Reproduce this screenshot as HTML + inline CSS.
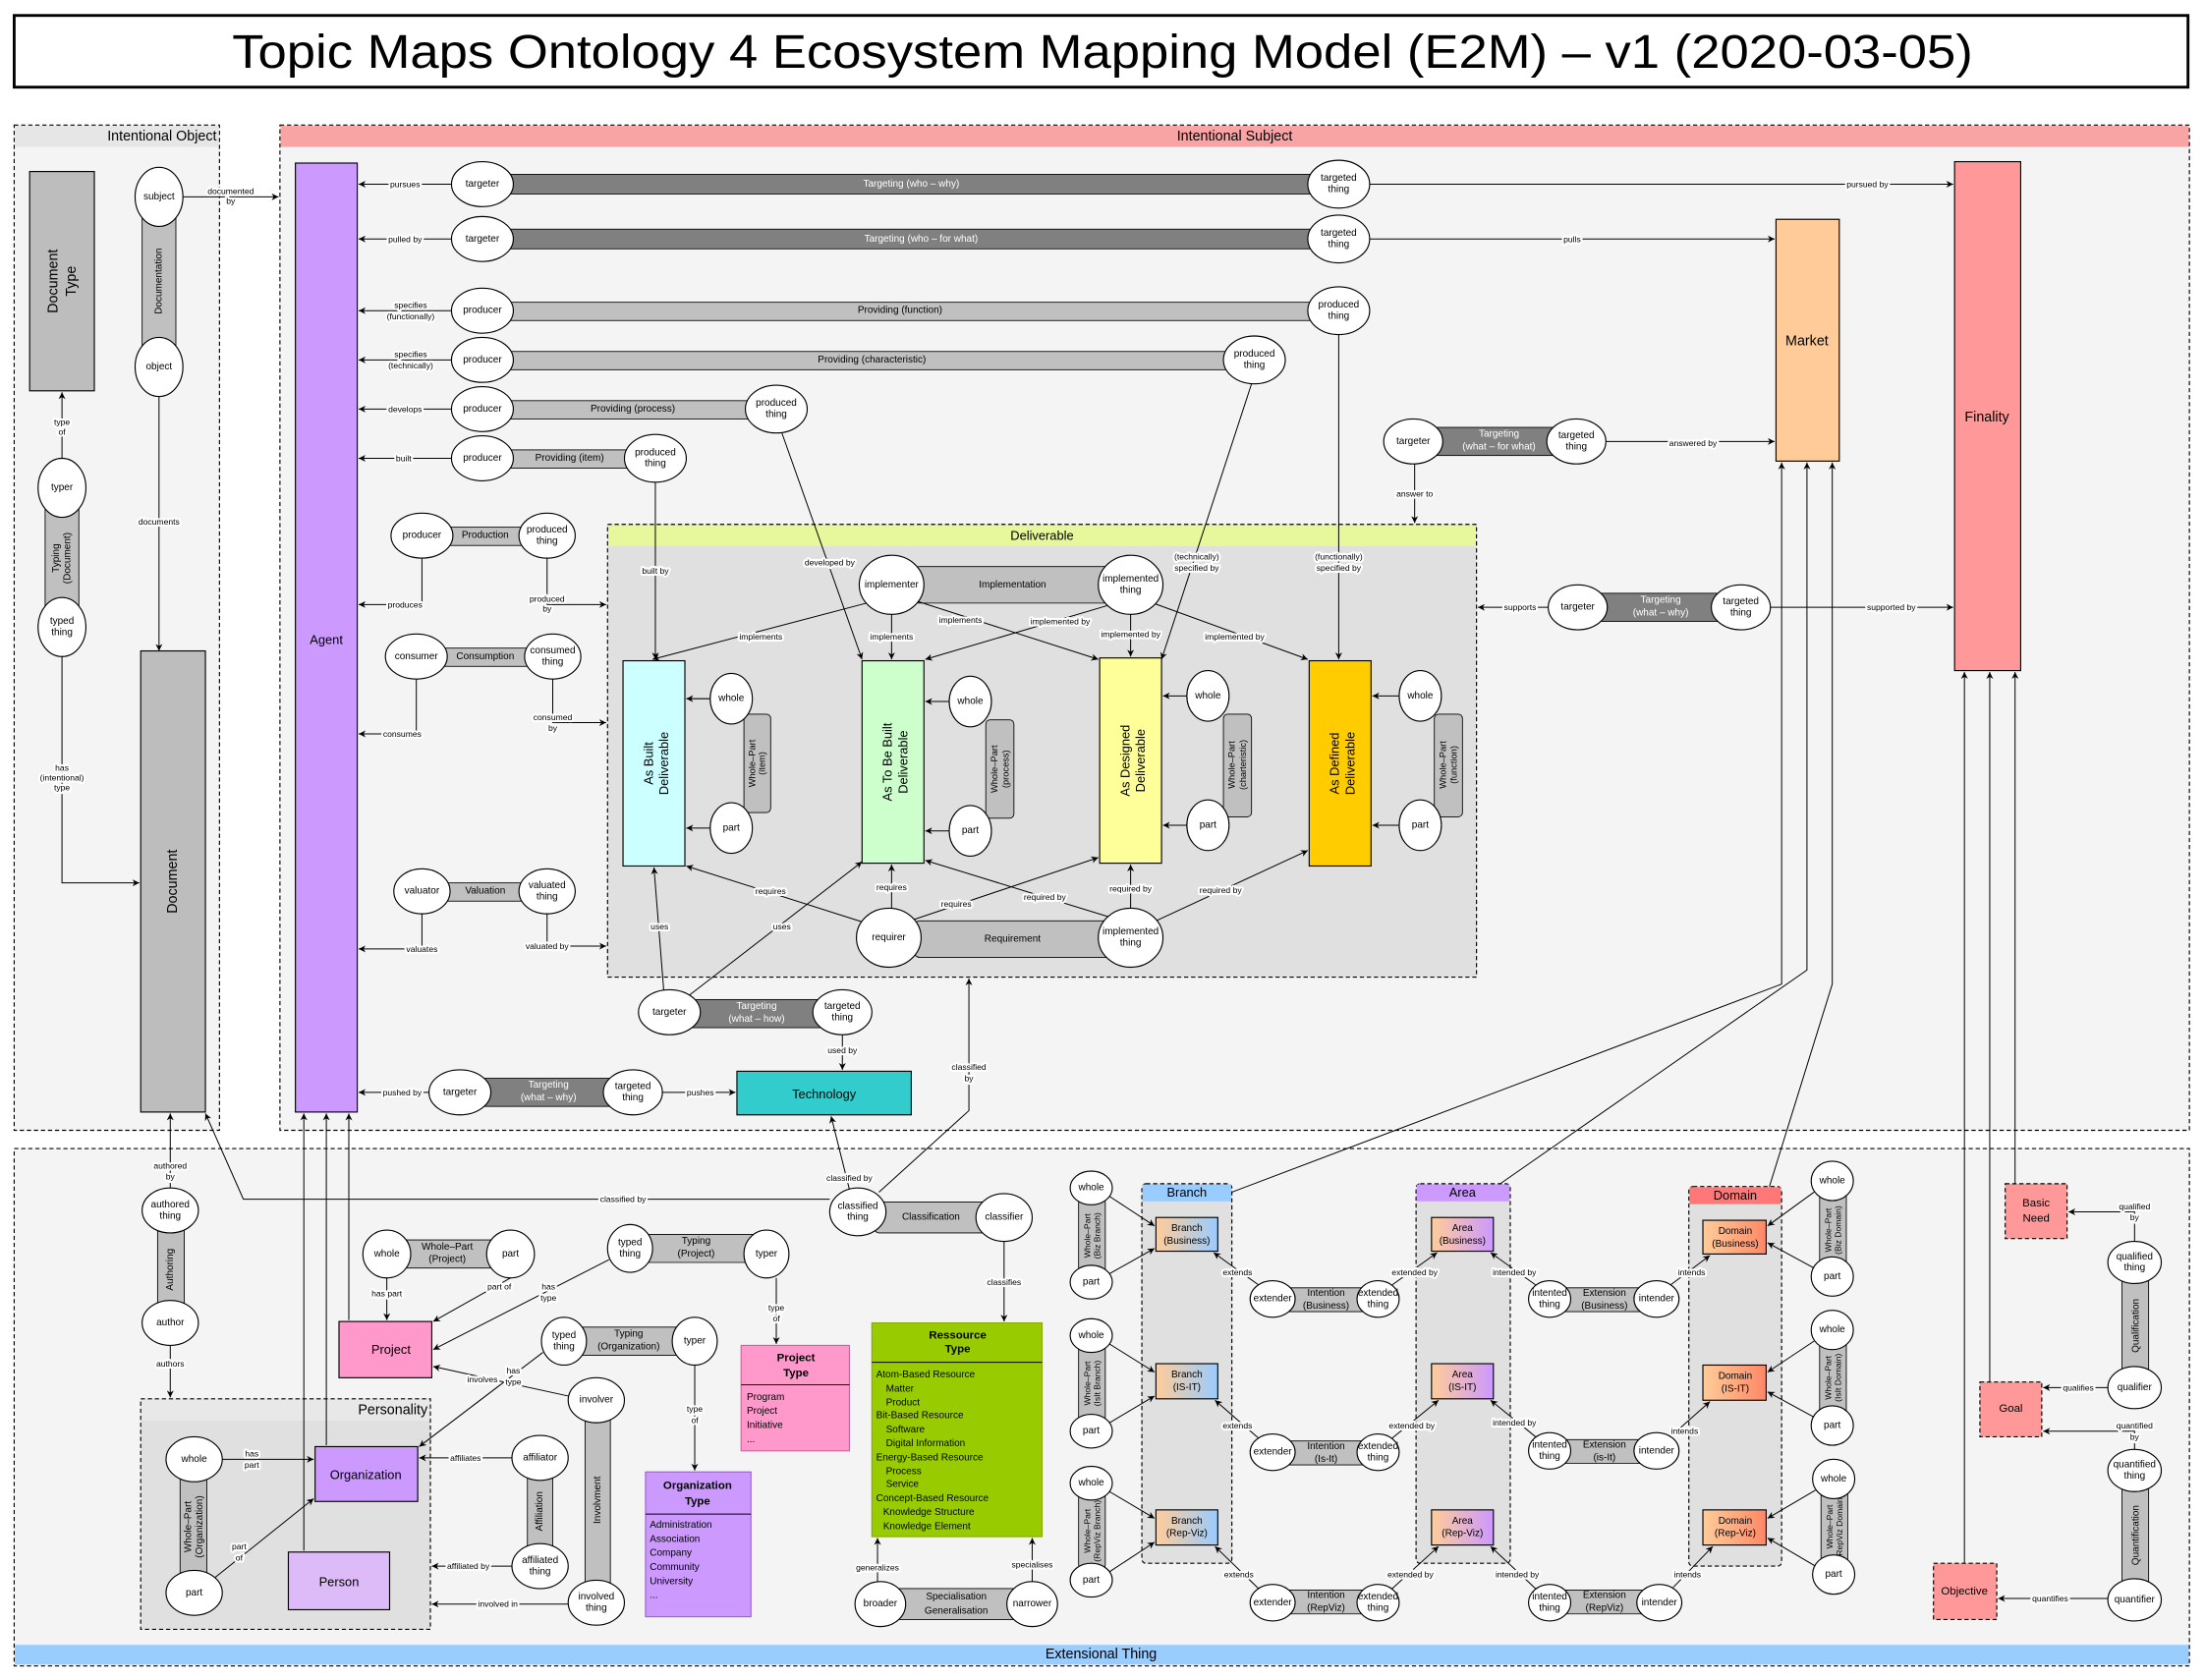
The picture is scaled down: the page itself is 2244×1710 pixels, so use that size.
<!DOCTYPE html>
<html><head><meta charset="utf-8"><style>
html,body{margin:0;padding:0;background:#fff}
svg{display:block}
text{font-family:"Liberation Sans",sans-serif;font-size:7px;text-anchor:middle;dominant-baseline:central;fill:#000}
.e{fill:#fff;stroke:#000;stroke-width:.8}
.bd{fill:#808080;stroke:#000;stroke-width:.6}
.bl{fill:#c0c0c0;stroke:#000;stroke-width:.6}
.lb{paint-order:stroke;stroke:#fff;stroke-width:3px;stroke-linejoin:round;font-size:6px}
.ln{stroke:#000;stroke-width:.7;fill:none}
.a{stroke:#000;stroke-width:.7;fill:none;marker-end:url(#ar)}
.dc{stroke:#000;stroke-width:.8;stroke-dasharray:3 2}
.bx{stroke:#000;stroke-width:.8}
</style></head><body>
<svg width="2244" height="1710" viewBox="0 0 1568 1195" xmlns="http://www.w3.org/2000/svg">
<defs><marker id="ar" viewBox="0 0 10 10" refX="10" refY="5" markerWidth="7" markerHeight="7" orient="auto-start-reverse"><path d="M0,0 L10,5 L0,10 L3,5z" fill="#000"/></marker>
<linearGradient id="gb" x1="0" x2="1"><stop offset="0" stop-color="#ffcc99"/><stop offset="1" stop-color="#99ccff"/></linearGradient>
<linearGradient id="ga" x1="0" x2="1"><stop offset="0" stop-color="#ffcc99"/><stop offset="1" stop-color="#cc99ff"/></linearGradient>
<linearGradient id="gd" x1="0" x2="1"><stop offset="0" stop-color="#ffcc99"/><stop offset="1" stop-color="#ff8866"/></linearGradient></defs>
<rect width="1568" height="1195" fill="#fff"/>
<!-- title -->
<rect x="10" y="11" width="1546" height="51" fill="#fff" stroke="#000" stroke-width="2"/>
<text x="784" y="37" textLength="1238" lengthAdjust="spacingAndGlyphs" style="font-size:34px">Topic Maps Ontology 4 Ecosystem Mapping Model (E2M) – v1 (2020-03-05)</text>

<!-- containers -->
<rect x="10" y="89" width="146" height="715" fill="#f4f4f4" class="dc"/>
<rect x="10.5" y="89.5" width="145" height="15" fill="#e6e6e6"/>
<text x="154" y="97" style="text-anchor:end;font-size:10px">Intentional Object</text>
<rect x="199" y="89" width="1358" height="715" fill="#f4f4f4" class="dc"/>
<rect x="199.5" y="89.5" width="1357" height="15" fill="#f8a4a4"/>
<text x="878" y="97" style="font-size:10px">Intentional Subject</text>
<rect x="10" y="817" width="1547" height="368" fill="#f4f4f4" class="dc"/>
<rect x="10.5" y="1170" width="1546" height="14" fill="#99ccff"/>
<text x="783" y="1177" style="font-size:10px">Extensional Thing</text>

<!-- Intentional object -->
<rect x="21" y="122" width="46" height="156" fill="#bdbdbd" class="bx"/>
<text transform="translate(38,200) rotate(-90)" style="font-size:10px">Document</text>
<text transform="translate(51,200) rotate(-90)" style="font-size:10px">Type</text>
<rect x="101" y="148" width="24" height="104" rx="4" class="bl"/>
<text transform="translate(113,200) rotate(-90)">Documentation</text>
<ellipse cx="113" cy="140" rx="17" ry="21" class="e"/><text x="113" y="140">subject</text>
<ellipse cx="113" cy="261" rx="17" ry="21" class="e"/><text x="113" y="261">object</text>
<path class="a" d="M130,140 H198"/><text x="164" y="136" class="lb">documented</text><text x="164" y="143" class="lb">by</text>
<path class="a" d="M113,282 V463"/><text x="113" y="371" class="lb">documents</text>
<rect x="100" y="463" width="46" height="328" fill="#bdbdbd" class="bx"/>
<text transform="translate(123,627) rotate(-90)" style="font-size:10px">Document</text>
<rect x="32" y="356" width="24" height="82" rx="4" class="bl"/>
<text transform="translate(40,397) rotate(-90)">Typing</text><text transform="translate(48,397) rotate(-90)">(Document)</text>
<ellipse cx="44" cy="347" rx="17" ry="21" class="e"/><text x="44" y="347">typer</text>
<ellipse cx="44" cy="446" rx="17" ry="21" class="e"/><text x="44" y="442">typed</text><text x="44" y="450">thing</text>
<path class="a" d="M44,326 V279"/><text x="44" y="300" class="lb">type</text><text x="44" y="307" class="lb">of</text>
<path class="a" d="M44,467 V628 H99"/><text x="44" y="546" class="lb">has</text><text x="44" y="553" class="lb">(intentional)</text><text x="44" y="560" class="lb">type</text>

<!-- Agent -->
<rect x="210" y="116" width="44" height="675" fill="#cc99ff" class="bx"/>
<text x="232" y="455" style="font-size:9px">Agent</text>

<!-- Row1 -->
<rect x="355" y="124" width="590" height="14" class="bd"/><text x="648" y="131" style="fill:#fff">Targeting (who – why)</text>
<ellipse cx="343" cy="131" rx="22" ry="16" class="e"/><text x="343" y="131">targeter</text>
<ellipse cx="952" cy="131" rx="22" ry="17" class="e"/><text x="952" y="127">targeted</text><text x="952" y="135">thing</text>
<path class="a" d="M321,131 H255"/><text x="288" y="131" class="lb">pursues</text>
<path class="a" d="M974,131 H1389"/><text x="1328" y="131" class="lb">pursued by</text>
<!-- Row2 -->
<rect x="355" y="163" width="590" height="14" class="bd"/><text x="655" y="170" style="fill:#fff">Targeting (who – for what)</text>
<ellipse cx="343" cy="170" rx="22" ry="16" class="e"/><text x="343" y="170">targeter</text>
<ellipse cx="952" cy="170" rx="22" ry="17" class="e"/><text x="952" y="166">targeted</text><text x="952" y="174">thing</text>
<path class="a" d="M321,170 H255"/><text x="288" y="170" class="lb">pulled by</text>
<path class="a" d="M974,170 H1262"/><text x="1118" y="170" class="lb">pulls</text>
<!-- Row3 -->
<rect x="355" y="215" width="590" height="13" class="bl"/><text x="640" y="221">Providing (function)</text>
<ellipse cx="343" cy="221" rx="22" ry="16" class="e"/><text x="343" y="221">producer</text>
<ellipse cx="952" cy="221" rx="22" ry="17" class="e"/><text x="952" y="217">produced</text><text x="952" y="225">thing</text>
<path class="a" d="M321,221 H255"/><text x="292" y="217" class="lb">specifies</text><text x="292" y="225" class="lb">(functionally)</text>
<!-- Row4 -->
<rect x="355" y="250" width="530" height="13" class="bl"/><text x="620" y="256">Providing (characteristic)</text>
<ellipse cx="343" cy="256" rx="22" ry="16" class="e"/><text x="343" y="256">producer</text>
<ellipse cx="892" cy="256" rx="22" ry="17" class="e"/><text x="892" y="252">produced</text><text x="892" y="260">thing</text>
<path class="a" d="M321,256 H255"/><text x="292" y="252" class="lb">specifies</text><text x="292" y="260" class="lb">(technically)</text>
<!-- Row5 -->
<rect x="355" y="285" width="190" height="13" class="bl"/><text x="450" y="291">Providing (process)</text>
<ellipse cx="343" cy="291" rx="22" ry="16" class="e"/><text x="343" y="291">producer</text>
<ellipse cx="552" cy="291" rx="22" ry="17" class="e"/><text x="552" y="287">produced</text><text x="552" y="295">thing</text>
<path class="a" d="M321,291 H255"/><text x="288" y="291" class="lb">develops</text>
<!-- Row6 -->
<rect x="355" y="320" width="100" height="13" class="bl"/><text x="405" y="326">Providing (item)</text>
<ellipse cx="343" cy="326" rx="22" ry="16" class="e"/><text x="343" y="326">producer</text>
<ellipse cx="466" cy="326" rx="22" ry="17" class="e"/><text x="466" y="322">produced</text><text x="466" y="330">thing</text>
<path class="a" d="M321,326 H255"/><text x="287" y="326" class="lb">built</text>
<!-- Production etc -->
<rect x="310" y="375" width="70" height="13" class="bl"/><text x="345" y="381">Production</text>
<ellipse cx="300" cy="381" rx="22" ry="16" class="e"/><text x="300" y="381">producer</text>
<ellipse cx="389" cy="381" rx="20" ry="16" class="e"/><text x="389" y="377">produced</text><text x="389" y="385">thing</text>
<path class="a" d="M300,397 V430 H255"/><text x="288" y="430" class="lb">produces</text>
<path class="a" d="M389,397 V430 H431"/><text x="389" y="426" class="lb">produced</text><text x="389" y="433" class="lb">by</text>
<rect x="306" y="461" width="80" height="13" class="bl"/><text x="345" y="467">Consumption</text>
<ellipse cx="296" cy="467" rx="22" ry="16" class="e"/><text x="296" y="467">consumer</text>
<ellipse cx="393" cy="467" rx="20" ry="16" class="e"/><text x="393" y="463">consumed</text><text x="393" y="471">thing</text>
<path class="a" d="M296,483 V522 H255"/><text x="286" y="522" class="lb">consumes</text>
<path class="a" d="M393,483 V514 H431"/><text x="393" y="510" class="lb">consumed</text><text x="393" y="518" class="lb">by</text>
<rect x="310" y="628" width="70" height="13" class="bl"/><text x="345" y="634">Valuation</text>
<ellipse cx="300" cy="634" rx="20" ry="16" class="e"/><text x="300" y="634">valuator</text>
<ellipse cx="389" cy="634" rx="20" ry="16" class="e"/><text x="389" y="630">valuated</text><text x="389" y="638">thing</text>
<path class="a" d="M300,650 V675 H255"/><text x="300" y="675" class="lb">valuates</text>
<path class="a" d="M389,650 V673 H431"/><text x="389" y="673" class="lb">valuated by</text>

<!-- Deliverable -->
<rect x="432" y="373" width="618" height="322" fill="#e0e0e0" class="dc"/>
<rect x="432.5" y="373.5" width="617" height="15" fill="#e6f79c"/>
<text x="741" y="381" style="font-size:9px">Deliverable</text>
<rect x="443" y="470" width="44" height="146" fill="#ccffff" class="bx"/>
<text transform="translate(461,543) rotate(-90)" style="font-size:9px">As Built</text><text transform="translate(472,543) rotate(-90)" style="font-size:9px">Deliverable</text>
<rect x="613" y="470" width="44" height="144" fill="#ccffcc" class="bx"/>
<text transform="translate(631,542) rotate(-90)" style="font-size:9px">As To Be Built</text><text transform="translate(642,542) rotate(-90)" style="font-size:9px">Deliverable</text>
<rect x="782" y="468" width="44" height="146" fill="#ffff99" class="bx"/>
<text transform="translate(800,541) rotate(-90)" style="font-size:9px">As Designed</text><text transform="translate(811,541) rotate(-90)" style="font-size:9px">Deliverable</text>
<rect x="931" y="470" width="44" height="146" fill="#ffcc00" class="bx"/>
<text transform="translate(949,543) rotate(-90)" style="font-size:9px">As Defined</text><text transform="translate(960,543) rotate(-90)" style="font-size:9px">Deliverable</text>
<!-- whole-parts -->
<rect x="529" y="508" width="19" height="70" rx="3" class="bl"/><text transform="translate(535,543) rotate(-90)" style="font-size:6.5px">Whole–Part</text><text transform="translate(542,543) rotate(-90)" style="font-size:6.5px">(item)</text>
<ellipse cx="520" cy="497" rx="15" ry="18" class="e"/><text x="520" y="497">whole</text>
<ellipse cx="520" cy="589" rx="15" ry="18" class="e"/><text x="520" y="589">part</text>
<path class="a" d="M505,497 H488"/><path class="a" d="M505,589 H488"/>
<rect x="701" y="512" width="20" height="70" rx="3" class="bl"/><text transform="translate(707,547) rotate(-90)" style="font-size:6.5px">Whole–Part</text><text transform="translate(715,547) rotate(-90)" style="font-size:6.5px">(process)</text>
<ellipse cx="690" cy="499" rx="15" ry="18" class="e"/><text x="690" y="499">whole</text>
<ellipse cx="690" cy="591" rx="15" ry="18" class="e"/><text x="690" y="591">part</text>
<path class="a" d="M675,499 H658"/><path class="a" d="M675,591 H658"/>
<rect x="870" y="508" width="20" height="73" rx="3" class="bl"/><text transform="translate(876,544) rotate(-90)" style="font-size:6.5px">Whole–Part</text><text transform="translate(884,544) rotate(-90)" style="font-size:6.5px">(charteristic)</text>
<ellipse cx="859" cy="495" rx="15" ry="18" class="e"/><text x="859" y="495">whole</text>
<ellipse cx="859" cy="587" rx="15" ry="18" class="e"/><text x="859" y="587">part</text>
<path class="a" d="M844,495 H827"/><path class="a" d="M844,587 H827"/>
<rect x="1020" y="508" width="20" height="73" rx="3" class="bl"/><text transform="translate(1026,544) rotate(-90)" style="font-size:6.5px">Whole–Part</text><text transform="translate(1034,544) rotate(-90)" style="font-size:6.5px">(function)</text>
<ellipse cx="1010" cy="495" rx="15" ry="18" class="e"/><text x="1010" y="495">whole</text>
<ellipse cx="1010" cy="587" rx="15" ry="18" class="e"/><text x="1010" y="587">part</text>
<path class="a" d="M995,495 H976"/><path class="a" d="M995,587 H976"/>
<!-- implementation -->
<rect x="650" y="403" width="142" height="26" rx="4" class="bl"/><text x="720" y="416">Implementation</text>
<path class="a" d="M620,428 L464,469"/><text x="541" y="453" class="lb">implements</text>
<path class="a" d="M634,432 V469"/><text x="634" y="453" class="lb">implements</text>
<path class="a" d="M650,427 L781,469"/><text x="683" y="441" class="lb">implements</text>
<path class="a" d="M790,430 L658,469"/><text x="754" y="442" class="lb">implemented by</text>
<path class="a" d="M804,433 V467"/><text x="804" y="451" class="lb">implemented by</text>
<path class="a" d="M820,429 L930,469"/><text x="878" y="453" class="lb">implemented by</text>
<ellipse cx="634" cy="416" rx="23" ry="21" class="e"/><text x="634" y="416">implementer</text>
<ellipse cx="804" cy="416" rx="23" ry="21" class="e"/><text x="804" y="412">implemented</text><text x="804" y="420">thing</text>
<!-- requirement -->
<rect x="650" y="655" width="142" height="26" rx="4" class="bl"/><text x="720" y="668">Requirement</text>
<path class="a" d="M614,656 L488,616"/><text x="548" y="634" class="lb">requires</text>
<path class="a" d="M634,648 V615"/><text x="634" y="631" class="lb">requires</text>
<path class="a" d="M650,654 L781,610"/><text x="680" y="643" class="lb">requires</text>
<path class="a" d="M788,652 L658,612"/><text x="743" y="638" class="lb">required by</text>
<path class="a" d="M804,648 V615"/><text x="804" y="632" class="lb">required by</text>
<path class="a" d="M822,655 L930,605"/><text x="868" y="633" class="lb">required by</text>
<ellipse cx="632" cy="667" rx="23" ry="21" class="e"/><text x="632" y="667">requirer</text>
<ellipse cx="804" cy="667" rx="23" ry="21" class="e"/><text x="804" y="663">implemented</text><text x="804" y="671">thing</text>
<!-- specs into deliverables -->
<path class="a" d="M466,343 V469"/><text x="466" y="406" class="lb">built by</text>
<path class="a" d="M556,308 L613,469"/><text x="590" y="400" class="lb">developed by</text>
<path class="a" d="M890,273 L826,469"/><text x="851" y="396" class="lb">(technically)</text><text x="851" y="404" class="lb">specified by</text>
<path class="a" d="M952,238 V469"/><text x="952" y="396" class="lb">(functionally)</text><text x="952" y="404" class="lb">specified by</text>

<!-- targeting what-how -->
<rect x="486" y="711" width="104" height="20" class="bd"/><text x="538" y="716" style="fill:#fff">Targeting</text><text x="538" y="725" style="fill:#fff">(what – how)</text>
<path class="a" d="M472,705 L465,617"/><text x="469" y="659" class="lb">uses</text>
<path class="a" d="M490,708 L613,613"/><text x="556" y="659" class="lb">uses</text>
<ellipse cx="476" cy="720" rx="22" ry="16" class="e"/><text x="476" y="720">targeter</text>
<ellipse cx="599" cy="720" rx="21" ry="16" class="e"/><text x="599" y="716">targeted</text><text x="599" y="724">thing</text>
<path class="a" d="M599,736 V761"/><text x="599" y="747" class="lb">used by</text>
<rect x="524" y="762" width="124" height="31" fill="#33cccc" class="bx"/><text x="586" y="778" style="font-size:9px">Technology</text>
<!-- targeting what-why lower -->
<rect x="340" y="767" width="100" height="20" class="bd"/><text x="390" y="772" style="fill:#fff">Targeting</text><text x="390" y="781" style="fill:#fff">(what – why)</text>
<ellipse cx="327" cy="777" rx="22" ry="16" class="e"/><text x="327" y="777">targeter</text>
<ellipse cx="450" cy="777" rx="21" ry="16" class="e"/><text x="450" y="773">targeted</text><text x="450" y="781">thing</text>
<path class="a" d="M305,777 H255"/><text x="286" y="777" class="lb">pushed by</text>
<path class="a" d="M471,777 H523"/><text x="498" y="777" class="lb">pushes</text>

<!-- right side -->
<rect x="1263" y="156" width="45" height="172" fill="#ffcc99" class="bx"/><text x="1285" y="243" style="font-size:10px">Market</text>
<rect x="1390" y="115" width="47" height="362" fill="#ff9999" class="bx"/><text x="1413" y="297" style="font-size:10px">Finality</text>
<rect x="1015" y="304" width="95" height="20" class="bd"/><text x="1066" y="309" style="fill:#fff">Targeting</text><text x="1066" y="318" style="fill:#fff">(what – for what)</text>
<ellipse cx="1005" cy="314" rx="21" ry="16" class="e"/><text x="1005" y="314">targeter</text>
<ellipse cx="1121" cy="314" rx="21" ry="16" class="e"/><text x="1121" y="310">targeted</text><text x="1121" y="318">thing</text>
<path class="a" d="M1142,314 H1262"/><text x="1204" y="315" class="lb">answered by</text>
<path class="a" d="M1006,330 V372"/><text x="1006" y="351" class="lb">answer to</text>
<rect x="1132" y="422" width="96" height="20" class="bd"/><text x="1181" y="427" style="fill:#fff">Targeting</text><text x="1181" y="436" style="fill:#fff">(what – why)</text>
<ellipse cx="1122" cy="432" rx="21" ry="16" class="e"/><text x="1122" y="432">targeter</text>
<ellipse cx="1238" cy="432" rx="21" ry="16" class="e"/><text x="1238" y="428">targeted</text><text x="1238" y="436">thing</text>
<path class="a" d="M1101,432 H1051"/><text x="1081" y="432" class="lb">supports</text>
<path class="a" d="M1259,432 H1389"/><text x="1345" y="432" class="lb">supported by</text>

<!-- lines from columns to Market -->
<path class="a" d="M876,848 L1267,700 V329"/>
<path class="a" d="M1064,844 L1285,690 V329"/>
<path class="a" d="M1258,845 L1303,700 V329"/>
<!-- lines to Finality -->
<path class="a" d="M1397,1112 V478"/>
<path class="a" d="M1415,983 V478"/>
<path class="a" d="M1433,842 V478"/>

<!-- Extensional: authoring -->
<rect x="112" y="868" width="19" height="70" rx="3" class="bl"/><text transform="translate(121,903) rotate(-90)">Authoring</text>
<ellipse cx="121" cy="861" rx="20" ry="16" class="e"/><text x="121" y="857">authored</text><text x="121" y="865">thing</text>
<ellipse cx="121" cy="941" rx="20" ry="16" class="e"/><text x="121" y="941">author</text>
<path class="a" d="M121,845 V792"/><text x="121" y="829" class="lb">authored</text><text x="121" y="837" class="lb">by</text>
<path class="a" d="M121,957 V994"/><text x="121" y="970" class="lb">authors</text>
<path class="a" d="M590,853 H173 L146,792"/><text x="443" y="853" class="lb">classified by</text>
<!-- classification -->
<rect x="622" y="855" width="80" height="22" rx="3" class="bl"/><text x="662" y="866">Classification</text>
<path class="a" d="M604,846 L591,794"/><text x="604" y="838" class="lb">classified by</text>
<path class="a" d="M625,848 L689,790 V696"/><text x="689" y="759" class="lb">classified</text><text x="689" y="767" class="lb">by</text>
<ellipse cx="610" cy="862" rx="20" ry="17" class="e"/><text x="610" y="858">classified</text><text x="610" y="866">thing</text>
<ellipse cx="714" cy="866" rx="20" ry="17" class="e"/><text x="714" y="866">classifier</text>
<path class="a" d="M714,883 V940"/><text x="714" y="912" class="lb">classifies</text>
<!-- Resource Type -->
<rect x="620" y="941" width="121" height="152" fill="#99cc00" class="bx" style="stroke:#8a0"/>
<path class="ln" d="M620,969 H741"/>
<text x="681" y="950" style="font-weight:bold;font-size:8px">Ressource</text><text x="681" y="960" style="font-weight:bold;font-size:8px">Type</text>
<g><text x="623" y="978" style="text-anchor:start">Atom-Based Resource</text><text x="630" y="988" style="text-anchor:start">Matter</text><text x="630" y="998" style="text-anchor:start">Product</text><text x="623" y="1007" style="text-anchor:start">Bit-Based Resource</text><text x="630" y="1017" style="text-anchor:start">Software</text><text x="630" y="1027" style="text-anchor:start">Digital Information</text><text x="623" y="1037" style="text-anchor:start">Energy-Based Resource</text><text x="630" y="1047" style="text-anchor:start">Process</text><text x="630" y="1056" style="text-anchor:start">Service</text><text x="623" y="1066" style="text-anchor:start">Concept-Based Resource</text><text x="628" y="1076" style="text-anchor:start">Knowledge Structure</text><text x="628" y="1086" style="text-anchor:start">Knowledge Element</text></g>
<rect x="636" y="1130" width="88" height="22" rx="3" class="bl"/><text x="680" y="1136">Specialisation</text><text x="680" y="1146">Generalisation</text>
<ellipse cx="626" cy="1141" rx="18" ry="16" class="e"/><text x="626" y="1141">broader</text>
<ellipse cx="734" cy="1141" rx="18" ry="16" class="e"/><text x="734" y="1141">narrower</text>
<path class="a" d="M624,1125 V1094"/><text x="624" y="1115" class="lb">generalizes</text>
<path class="a" d="M734,1125 V1094"/><text x="734" y="1113" class="lb">specialises</text>
<!-- project -->
<rect x="280" y="882" width="78" height="20" rx="3" class="bl"/><text x="318" y="887">Whole–Part</text><text x="318" y="896">(Project)</text>
<ellipse cx="275" cy="892" rx="17" ry="17" class="e"/><text x="275" y="892">whole</text>
<ellipse cx="363" cy="892" rx="17" ry="17" class="e"/><text x="363" y="892">part</text>
<path class="a" d="M275,909 V939"/><text x="275" y="920" class="lb">has part</text>
<path class="a" d="M363,909 L308,940"/><text x="355" y="915" class="lb">part of</text>
<rect x="241" y="940" width="66" height="40" fill="#ff99cc" class="bx"/><text x="278" y="960" style="font-size:9px">Project</text>
<rect x="455" y="878" width="85" height="20" rx="3" class="bl"/><text x="495" y="883">Typing</text><text x="495" y="892">(Project)</text>
<ellipse cx="448" cy="888" rx="16" ry="17" class="e"/><text x="448" y="884">typed</text><text x="448" y="892">thing</text>
<ellipse cx="545" cy="892" rx="16" ry="17" class="e"/><text x="545" y="892">typer</text>
<path class="a" d="M433,896 L308,960"/><text x="390" y="915" class="lb">has</text><text x="390" y="923" class="lb">type</text>
<path class="a" d="M552,909 V956"/><text x="552" y="930" class="lb">type</text><text x="552" y="938" class="lb">of</text>
<rect x="527" y="957" width="77" height="75" fill="#ff99cc" class="bx" style="stroke:#c69"/>
<path class="ln" d="M527,985 H604"/>
<text x="566" y="966" style="font-weight:bold;font-size:8px">Project</text><text x="566" y="977" style="font-weight:bold;font-size:8px">Type</text>
<text x="531" y="994" style="text-anchor:start">Program</text><text x="531" y="1004" style="text-anchor:start">Project</text><text x="531" y="1014" style="text-anchor:start">Initiative</text><text x="531" y="1024" style="text-anchor:start">...</text>
<rect x="405" y="944" width="84" height="20" rx="3" class="bl"/><text x="447" y="949">Typing</text><text x="447" y="958">(Organization)</text>
<ellipse cx="401" cy="954" rx="16" ry="17" class="e"/><text x="401" y="950">typed</text><text x="401" y="958">thing</text>
<ellipse cx="494" cy="954" rx="16" ry="17" class="e"/><text x="494" y="954">typer</text>
<path class="a" d="M494,971 V1046"/><text x="494" y="1002" class="lb">type</text><text x="494" y="1010" class="lb">of</text>
<rect x="459" y="1047" width="75" height="103" fill="#cc99ff" class="bx" style="stroke:#96c"/>
<path class="ln" d="M459,1077 H534"/>
<text x="496" y="1057" style="font-weight:bold;font-size:8px">Organization</text><text x="496" y="1068" style="font-weight:bold;font-size:8px">Type</text>
<text x="462" y="1085" style="text-anchor:start">Administration</text><text x="462" y="1095" style="text-anchor:start">Association</text><text x="462" y="1105" style="text-anchor:start">Company</text><text x="462" y="1115" style="text-anchor:start">Community</text><text x="462" y="1125" style="text-anchor:start">University</text><text x="462" y="1135" style="text-anchor:start">...</text>
<!-- personality -->
<rect x="100" y="995" width="206" height="164" fill="#e0e0e0" class="dc"/>
<rect x="100.5" y="995.5" width="205" height="15" fill="#e8e8e8"/>
<text x="304" y="1003" style="text-anchor:end;font-size:10px">Personality</text>
<path class="a" d="M216,1103 V792"/><path class="a" d="M232,1028 V792"/><path class="a" d="M248,939 V792"/>
<rect x="224" y="1029" width="73" height="39" fill="#cc99ff" class="bx"/><text x="260" y="1049" style="font-size:9px">Organization</text>
<rect x="205" y="1104" width="72" height="41" fill="#ddbbf8" class="bx"/><text x="241" y="1125" style="font-size:9px">Person</text>
<rect x="128" y="1048" width="19" height="76" rx="3" class="bl"/><text transform="translate(134,1086) rotate(-90)">Whole–Part</text><text transform="translate(142,1086) rotate(-90)">(Organization)</text>
<ellipse cx="138" cy="1038" rx="20" ry="16" class="e"/><text x="138" y="1038">whole</text>
<ellipse cx="138" cy="1133" rx="20" ry="16" class="e"/><text x="138" y="1133">part</text>
<path class="a" d="M158,1038 H223"/><text x="179" y="1034" class="lb">has</text><text x="179" y="1042" class="lb">part</text>
<path class="a" d="M153,1122 L223,1066"/><text x="170" y="1100" class="lb">part</text><text x="170" y="1108" class="lb">of</text>
<rect x="375" y="1044" width="18" height="62" rx="3" class="bl"/><text transform="translate(384,1075) rotate(-90)">Affiliation</text>
<ellipse cx="384" cy="1037" rx="20" ry="16" class="e"/><text x="384" y="1037">affiliator</text>
<ellipse cx="384" cy="1114" rx="20" ry="16" class="e"/><text x="384" y="1110">affiliated</text><text x="384" y="1118">thing</text>
<path class="a" d="M364,1037 H298"/><text x="331" y="1037" class="lb">affiliates</text>
<path class="a" d="M364,1114 H307"/><text x="333" y="1114" class="lb">affiliated by</text>
<rect x="416" y="1005" width="18" height="125" rx="3" class="bl"/><text transform="translate(425,1067) rotate(-90)">Involvment</text>
<ellipse cx="424" cy="996" rx="20" ry="16" class="e"/><text x="424" y="996">involver</text>
<ellipse cx="424" cy="1140" rx="20" ry="16" class="e"/><text x="424" y="1136">involved</text><text x="424" y="1144">thing</text>
<path class="a" d="M404,993 L308,972"/><text x="343" y="981" class="lb">involves</text>
<path class="a" d="M386,962 L298,1029"/><text x="365" y="975" class="lb">has</text><text x="365" y="983" class="lb">type</text>
<path class="a" d="M404,1141 H307"/><text x="354" y="1141" class="lb">involved in</text>

<!-- Branch / Area / Domain columns -->
<rect x="812" y="842" width="64" height="270" rx="3" fill="#e0e0e0" class="dc"/>
<rect x="812.5" y="842.5" width="63" height="12" fill="#99ccff"/><text x="844" y="848" style="font-size:9px">Branch</text>
<rect x="1007" y="842" width="67" height="270" rx="3" fill="#e0e0e0" class="dc"/>
<rect x="1007.5" y="842.5" width="66" height="12" fill="#cc99ff"/><text x="1040" y="848" style="font-size:9px">Area</text>
<rect x="1201" y="844" width="66" height="270" rx="3" fill="#e0e0e0" class="dc"/>
<rect x="1201.5" y="844.5" width="65" height="12" fill="#f77"/><text x="1234" y="850" style="font-size:9px">Domain</text>
<g>
<rect x="822" y="866" width="44" height="24" fill="url(#gb)" class="bx"/><text x="844" y="874">Branch</text><text x="844" y="883">(Business)</text>
<rect x="822" y="970" width="44" height="25" fill="url(#gb)" class="bx"/><text x="844" y="978">Branch</text><text x="844" y="987">(IS-IT)</text>
<rect x="822" y="1074" width="44" height="25" fill="url(#gb)" class="bx"/><text x="844" y="1082">Branch</text><text x="844" y="1091">(Rep-Viz)</text>
<rect x="1018" y="866" width="44" height="24" fill="url(#ga)" class="bx"/><text x="1040" y="874">Area</text><text x="1040" y="883">(Business)</text>
<rect x="1018" y="970" width="44" height="25" fill="url(#ga)" class="bx"/><text x="1040" y="978">Area</text><text x="1040" y="987">(IS-IT)</text>
<rect x="1018" y="1074" width="44" height="25" fill="url(#ga)" class="bx"/><text x="1040" y="1082">Area</text><text x="1040" y="1091">(Rep-Viz)</text>
<rect x="1211" y="868" width="45" height="24" fill="url(#gd)" class="bx"/><text x="1234" y="876">Domain</text><text x="1234" y="885">(Business)</text>
<rect x="1211" y="971" width="45" height="25" fill="url(#gd)" class="bx"/><text x="1234" y="979">Domain</text><text x="1234" y="988">(IS-IT)</text>
<rect x="1211" y="1074" width="45" height="25" fill="url(#gd)" class="bx"/><text x="1234" y="1082">Domain</text><text x="1234" y="1091">(Rep-Viz)</text>
</g>
<!-- branch whole-parts -->
<g>
<rect x="767" y="852" width="19" height="54" rx="3" class="bl"/><text transform="translate(773,879) rotate(-90)" style="font-size:6px">Whole–Part</text><text transform="translate(780,879) rotate(-90)" style="font-size:6px">(Biz Branch)</text>
<ellipse cx="776" cy="845" rx="15" ry="12" class="e"/><text x="776" y="845">whole</text>
<ellipse cx="776" cy="912" rx="15" ry="12" class="e"/><text x="776" y="912">part</text>
<path class="a" d="M789,851 L821,872"/><path class="a" d="M789,906 L821,888"/>
<rect x="767" y="957" width="19" height="54" rx="3" class="bl"/><text transform="translate(773,984) rotate(-90)" style="font-size:6px">Whole–Part</text><text transform="translate(780,984) rotate(-90)" style="font-size:6px">(IsIt Branch)</text>
<ellipse cx="776" cy="950" rx="15" ry="12" class="e"/><text x="776" y="950">whole</text>
<ellipse cx="776" cy="1018" rx="15" ry="12" class="e"/><text x="776" y="1018">part</text>
<path class="a" d="M789,956 L821,976"/><path class="a" d="M789,1012 L821,993"/>
<rect x="767" y="1062" width="19" height="54" rx="3" class="bl"/><text transform="translate(773,1089) rotate(-90)" style="font-size:6px">Whole–Part</text><text transform="translate(780,1089) rotate(-90)" style="font-size:6px">(RepViz Branch)</text>
<ellipse cx="776" cy="1055" rx="15" ry="12" class="e"/><text x="776" y="1055">whole</text>
<ellipse cx="776" cy="1124" rx="15" ry="12" class="e"/><text x="776" y="1124">part</text>
<path class="a" d="M789,1061 L821,1080"/><path class="a" d="M789,1118 L821,1097"/>
</g>
<!-- domain whole-parts -->
<g>
<rect x="1294" y="847" width="19" height="56" rx="3" class="bl"/><text transform="translate(1300,875) rotate(-90)" style="font-size:6px">Whole–Part</text><text transform="translate(1307,875) rotate(-90)" style="font-size:6px">(Biz Domain)</text>
<ellipse cx="1303" cy="840" rx="15" ry="14" class="e"/><text x="1303" y="840">whole</text>
<ellipse cx="1303" cy="908" rx="15" ry="14" class="e"/><text x="1303" y="908">part</text>
<path class="a" d="M1290,848 L1257,872"/><path class="a" d="M1290,902 L1257,884"/>
<rect x="1294" y="952" width="19" height="56" rx="3" class="bl"/><text transform="translate(1300,980) rotate(-90)" style="font-size:6px">Whole–Part</text><text transform="translate(1307,980) rotate(-90)" style="font-size:6px">(IsIt Domain)</text>
<ellipse cx="1303" cy="946" rx="15" ry="14" class="e"/><text x="1303" y="946">whole</text>
<ellipse cx="1303" cy="1014" rx="15" ry="14" class="e"/><text x="1303" y="1014">part</text>
<path class="a" d="M1290,954 L1257,976"/><path class="a" d="M1290,1008 L1257,990"/>
<rect x="1295" y="1058" width="19" height="56" rx="3" class="bl"/><text transform="translate(1301,1086) rotate(-90)" style="font-size:6px">Whole–Part</text><text transform="translate(1308,1086) rotate(-90)" style="font-size:6px">(RepViz Domain)</text>
<ellipse cx="1304" cy="1052" rx="15" ry="14" class="e"/><text x="1304" y="1052">whole</text>
<ellipse cx="1304" cy="1120" rx="15" ry="14" class="e"/><text x="1304" y="1120">part</text>
<path class="a" d="M1291,1060 L1257,1080"/><path class="a" d="M1291,1114 L1257,1094"/>
</g>
<!-- intentions / extensions -->
<g>
<rect x="910" y="916" width="62" height="17" rx="3" class="bl"/><text x="943" y="920">Intention</text><text x="943" y="929">(Business)</text>
<ellipse cx="905" cy="924" rx="16" ry="13" class="e"/><text x="905" y="924">extender</text>
<ellipse cx="980" cy="924" rx="15" ry="13" class="e"/><text x="980" y="920">extended</text><text x="980" y="928">thing</text>
<path class="a" d="M895,914 L863,891"/><text x="880" y="905" class="lb">extends</text>
<path class="a" d="M990,914 L1022,891"/><text x="1006" y="905" class="lb">extended by</text>
<rect x="910" y="1025" width="62" height="17" rx="3" class="bl"/><text x="943" y="1029">Intention</text><text x="943" y="1038">(Is-It)</text>
<ellipse cx="905" cy="1033" rx="16" ry="13" class="e"/><text x="905" y="1033">extender</text>
<ellipse cx="980" cy="1033" rx="15" ry="13" class="e"/><text x="980" y="1029">extended</text><text x="980" y="1037">thing</text>
<path class="a" d="M895,1023 L864,996"/><text x="880" y="1014" class="lb">extends</text>
<path class="a" d="M990,1023 L1023,996"/><text x="1004" y="1014" class="lb">extended by</text>
<rect x="910" y="1131" width="62" height="17" rx="3" class="bl"/><text x="943" y="1135">Intention</text><text x="943" y="1144">(RepViz)</text>
<ellipse cx="905" cy="1140" rx="16" ry="13" class="e"/><text x="905" y="1140">extender</text>
<ellipse cx="980" cy="1140" rx="15" ry="13" class="e"/><text x="980" y="1136">extended</text><text x="980" y="1144">thing</text>
<path class="a" d="M895,1130 L864,1100"/><text x="881" y="1120" class="lb">extends</text>
<path class="a" d="M990,1130 L1023,1100"/><text x="1003" y="1120" class="lb">extended by</text>
<rect x="1108" y="916" width="62" height="17" rx="3" class="bl"/><text x="1141" y="920">Extension</text><text x="1141" y="929">(Business)</text>
<ellipse cx="1102" cy="924" rx="15" ry="13" class="e"/><text x="1102" y="920">intented</text><text x="1102" y="928">thing</text>
<ellipse cx="1178" cy="924" rx="16" ry="13" class="e"/><text x="1178" y="924">intender</text>
<path class="a" d="M1092,914 L1060,891"/><text x="1077" y="905" class="lb">intended by</text>
<path class="a" d="M1188,914 L1216,893"/><text x="1203" y="905" class="lb">intends</text>
<rect x="1108" y="1024" width="62" height="17" rx="3" class="bl"/><text x="1141" y="1028">Extension</text><text x="1141" y="1037">(is-It)</text>
<ellipse cx="1102" cy="1032" rx="15" ry="13" class="e"/><text x="1102" y="1028">intented</text><text x="1102" y="1036">thing</text>
<ellipse cx="1178" cy="1032" rx="16" ry="13" class="e"/><text x="1178" y="1032">intender</text>
<path class="a" d="M1092,1022 L1060,996"/><text x="1077" y="1012" class="lb">intended by</text>
<path class="a" d="M1190,1020 L1216,997"/><text x="1198" y="1018" class="lb">intends</text>
<rect x="1108" y="1131" width="62" height="17" rx="3" class="bl"/><text x="1141" y="1135">Extension</text><text x="1141" y="1144">(RepViz)</text>
<ellipse cx="1102" cy="1140" rx="15" ry="13" class="e"/><text x="1102" y="1136">intented</text><text x="1102" y="1144">thing</text>
<ellipse cx="1180" cy="1140" rx="16" ry="13" class="e"/><text x="1180" y="1140">intender</text>
<path class="a" d="M1092,1130 L1060,1100"/><text x="1079" y="1120" class="lb">intended by</text>
<path class="a" d="M1190,1129 L1218,1100"/><text x="1200" y="1120" class="lb">intends</text>
</g>

<!-- finality subtypes -->
<rect x="1426" y="842" width="44" height="39" fill="#f99" class="dc"/><text x="1448" y="856" style="font-size:8px">Basic</text><text x="1448" y="867" style="font-size:8px">Need</text>
<rect x="1408" y="983" width="44" height="39" fill="#f99" class="dc"/><text x="1430" y="1002" style="font-size:8px">Goal</text>
<rect x="1375" y="1112" width="45" height="40" fill="#f99" class="dc"/><text x="1397" y="1132" style="font-size:8px">Objective</text>
<rect x="1509" y="906" width="19" height="74" rx="3" class="bl"/><text transform="translate(1519,943) rotate(-90)">Qualification</text>
<ellipse cx="1518" cy="898" rx="19" ry="15" class="e"/><text x="1518" y="894">qualified</text><text x="1518" y="902">thing</text>
<ellipse cx="1518" cy="987" rx="19" ry="15" class="e"/><text x="1518" y="987">qualifier</text>
<path class="a" d="M1518,883 V862 H1471"/><text x="1518" y="858" class="lb">qualified</text><text x="1518" y="866" class="lb">by</text>
<path class="a" d="M1499,987 H1453"/><text x="1478" y="987" class="lb">qualifies</text>
<rect x="1509" y="1054" width="19" height="76" rx="3" class="bl"/><text transform="translate(1519,1092) rotate(-90)">Quantification</text>
<ellipse cx="1518" cy="1046" rx="19" ry="15" class="e"/><text x="1518" y="1042">quantified</text><text x="1518" y="1050">thing</text>
<ellipse cx="1518" cy="1138" rx="19" ry="15" class="e"/><text x="1518" y="1138">quantifier</text>
<path class="a" d="M1518,1031 V1018 H1453"/><text x="1518" y="1014" class="lb">quantified</text><text x="1518" y="1022" class="lb">by</text>
<path class="a" d="M1499,1137 H1421"/><text x="1458" y="1137" class="lb">quantifies</text>
</svg>
</body></html>
